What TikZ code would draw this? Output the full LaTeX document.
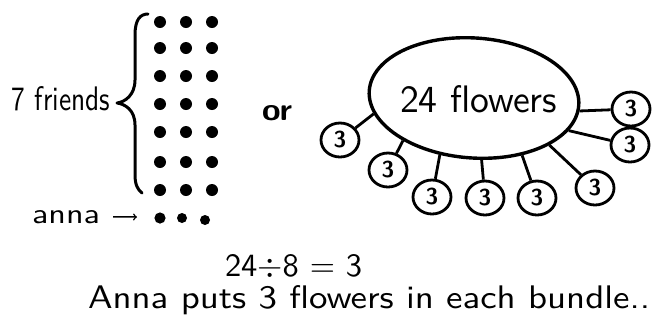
\documentclass[tikz,border=0pt]{standalone}
\usepackage{graphicx}
\usetikzlibrary{shapes.geometric}
\tikzset{
  txt/.style={inner sep=0pt, outer sep=0pt, font=\sffamily},
  bigegg/.style={ellipse, draw, line width=3.4pt, minimum width=210pt, minimum height=120pt, inner sep=0pt, rotate=-4},
  bundle/.style={ellipse, draw, line width=2.8pt, minimum width=38pt, minimum height=34pt, inner sep=0pt, font=\sffamily\bfseries\fontsize{23}{26}\selectfont},
  stub/.style={line width=2.8pt},
  dot/.style={fill=black},
  bracepath/.style={line width=3pt, line cap=round, line join=round},
}
\begin{document}
\begin{tikzpicture}[x=1pt, y=-1pt]
\useasboundingbox (0,0) rectangle (655,322);
% dots
\foreach \yy in {22,48,76,104,132,162,190} {
  \foreach \xx in {160,186,212} {
    \fill[dot] (\xx,\yy) circle (6pt);
  }
}
\fill[dot] (160,218) circle (5.6pt);
\fill[dot] (182,218) circle (5pt);
\fill[dot] (205,220) circle (5pt);
% brace
\draw[bracepath] (148,14) .. controls (140,14) and (135,20) .. (135,35) -- (135,80)
  .. controls (135,95) and (125,102) .. (117,103)
  .. controls (125,104) and (135,110) .. (135,125) -- (135,175)
  .. controls (135,185) and (138,190) .. (142,193);
% labels left
\node[txt, anchor=base west] (friends) at (12,110) {\resizebox{98pt}{24pt}{7 friends}};
\node[txt, anchor=base west] (anna) at (32,223) {\resizebox{68pt}{13pt}{anna}};
\coordinate (arrowend) at (137,217);
\draw[line width=1.5pt, ->, shorten <=13pt] (anna.east) -- (arrowend);
\node[txt, anchor=base west] (or) at (262,120) {\resizebox{30pt}{15pt}{\bfseries or}};
% big ellipse
\node[bigegg] (big) at (474,98) {};
\node[txt, anchor=base west] (bigtxt) at (400,112) {\resizebox{157pt}{27pt}{24 flowers}};
% bundles
\node[bundle] (c1) at (340,140) {3};
\node[bundle] (c2) at (388,170) {3};
\node[bundle] (c3) at (432,197) {3};
\node[bundle] (c4) at (485,198) {3};
\node[bundle] (c5) at (537,198) {3};
\node[bundle] (c6) at (595,188) {3};
\node[bundle] (c7) at (631,109) {3};
\node[bundle] (c8) at (630,145) {3};
\draw[stub] (big.193) -- (c1);
\draw[stub] (big.215) -- (c2);
\draw[stub] (big.243) -- (c3);
\draw[stub] (big.281) -- (c4);
\draw[stub] (big.314) -- (c5);
\draw[stub] (big.332) -- (c6);
\draw[stub] (big.357) -- (c7);
\draw[stub] (big.345) -- (c8);
% bottom text
\node[txt, anchor=base west] (eq) at (225,276) {\resizebox{137pt}{22pt}{24$\div$8 = 3}};
\node[txt, anchor=base west] (sentence) at (88,308) {\resizebox{562pt}{23pt}{Anna puts 3 flowers in each bundle..}};
\end{tikzpicture}
\end{document}
